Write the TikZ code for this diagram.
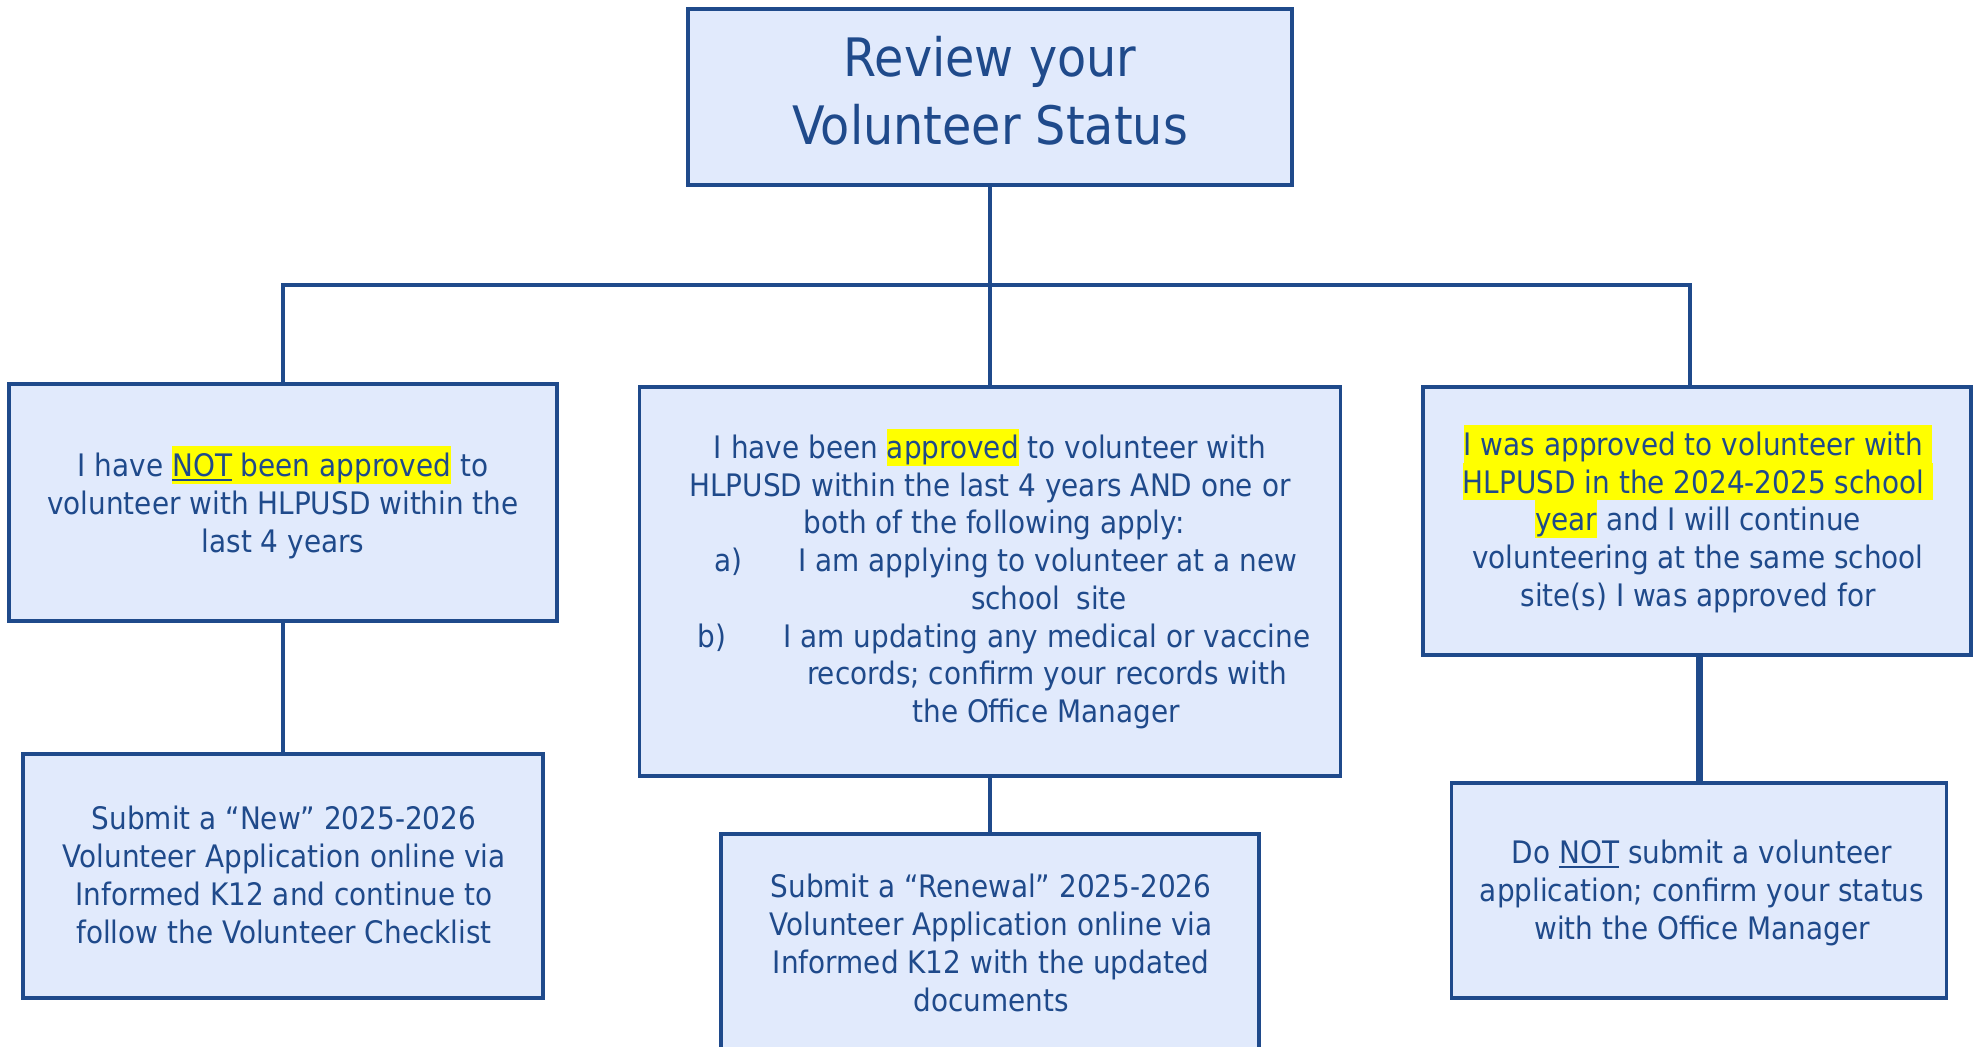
\documentclass[tikz,border=0pt]{standalone}
\usepackage{fontspec}
\setmainfont{DejaVu Sans}[FakeStretch=0.9]
\definecolor{bord}{HTML}{1F4A8B}
\definecolor{fillc}{HTML}{E1EAFC}
\definecolor{txtc}{HTML}{1F4A8B}
\definecolor{hly}{HTML}{FFFF00}
\newcommand\stt{\rule[-3.6pt]{0pt}{18.8pt}}
\newcommand\tst{\rule[-6pt]{0pt}{27pt}}
\newcommand\hlt[1]{{\setlength{\fboxsep}{0pt}\colorbox{hly}{\stt#1}}}
\newcommand\ulthick[1]{\setbox0\hbox{#1}\rlap{\rule[-2pt]{\wd0}{1.1pt}}\box0\relax}
\tikzset{
  box/.style={draw=bord, line width=1.6pt, fill=fillc, inner sep=0pt, rectangle},
  txt/.style={text=txtc, inner sep=0pt, align=center, font=\fontsize{15.5pt}{18.85pt}\selectfont},
  ttl/.style={text=txtc, inner sep=0pt, align=center, font=\fontsize{26.5pt}{34pt}\selectfont},
  conn/.style={draw=bord, line width=1.75pt},
  connthick/.style={draw=bord, line width=3.5pt}
}
\begin{document}
\begin{tikzpicture}[x=0.5pt,y=-0.5pt]
\useasboundingbox (0,0) rectangle (1976,1047);
\clip (0,0) rectangle (1976,1047);
% boxes
\node[box, minimum width=302pt, minimum height=88pt] (top) at (990,97) {};
\node[box, minimum width=274pt, minimum height=118.5pt] (left) at (283,502.5) {};
\node[box, minimum width=350.5pt, minimum height=194.5pt] (mid) at (990,581.5) {};
\node[box, minimum width=274pt, minimum height=134pt] (right) at (1697,521) {};
\node[box, minimum width=260pt, minimum height=122pt] (bl) at (283,876) {};
\node[box, minimum width=269pt, minimum height=111pt] (bm) at (990,945) {};
\node[box, minimum width=247.5pt, minimum height=107.5pt] (br) at (1699,890.5) {};
% connectors
\coordinate (barL) at (283,285);
\coordinate (barR) at (1690,285);
\draw[conn] (top.south) -- (mid.north);
\draw[conn] (left.north) -- (barL) -- (barR) -- (right.north -| barR);
\draw[conn] (left.south) -- (bl.north);
\draw[conn] (mid.south) -- (bm.north);
\draw[connthick] (br.north |- right.south) -- (br.north);
% texts
\node[ttl, anchor=north] (toptext) at (990,34) {\tst Review your\\\tst Volunteer Status};
\node[txt, anchor=north] (lefttext) at (283,446.1) {\stt I have \hlt{\ulthick{NOT} been approved} to\\\stt volunteer with HLPUSD within the\\\stt last 4 years};
\node[txt, anchor=north] (righttext) at (1698,424.6) {\hlt{I was approved to volunteer with }\\\hlt{HLPUSD in the 2024-2025 school }\\\hlt{year} and I will continue\\\stt volunteering at the same school\\\stt site(s) I was approved for};
\node[txt, anchor=north] (bltext) at (284,799.1) {\stt Submit a “New” 2025-2026\\\stt Volunteer Application online via\\\stt Informed K12 and continue to\\\stt follow the Volunteer Checklist};
\node[txt, anchor=north] (bmtext) at (991,867.1) {\stt Submit a “Renewal” 2025-2026\\\stt Volunteer Application online via\\\stt Informed K12 with the updated\\\stt documents};
\node[txt, anchor=north] (brtext) at (1702,833.1) {\stt Do \ulthick{NOT} submit a volunteer\\\stt application; confirm your status\\\stt with the Office Manager};
% middle box lines
\node[txt, anchor=base] (m1) at (990,459) {I have been \hlt{approved} to volunteer with};
\node[txt, anchor=base] (m2) at (990,496.5) {HLPUSD within the last 4 years AND one or};
\node[txt, anchor=base] (m3) at (994,534) {both of the following apply:};
\node[txt, anchor=base west] (ma) at (714,572) {a)};
\node[txt, anchor=base] (m4) at (1048,572) {I am applying to volunteer at a new};
\node[txt, anchor=base] (m5) at (1049,609.5) {school\hspace{8pt}site};
\node[txt, anchor=base west] (mb) at (697,647) {b)};
\node[txt, anchor=base] (m6) at (1047,647) {I am updating any medical or vaccine};
\node[txt, anchor=base] (m7) at (1047,684.5) {records; confirm your records with};
\node[txt, anchor=base] (m8) at (1046,722) {the Office Manager};
\end{tikzpicture}
\end{document}
